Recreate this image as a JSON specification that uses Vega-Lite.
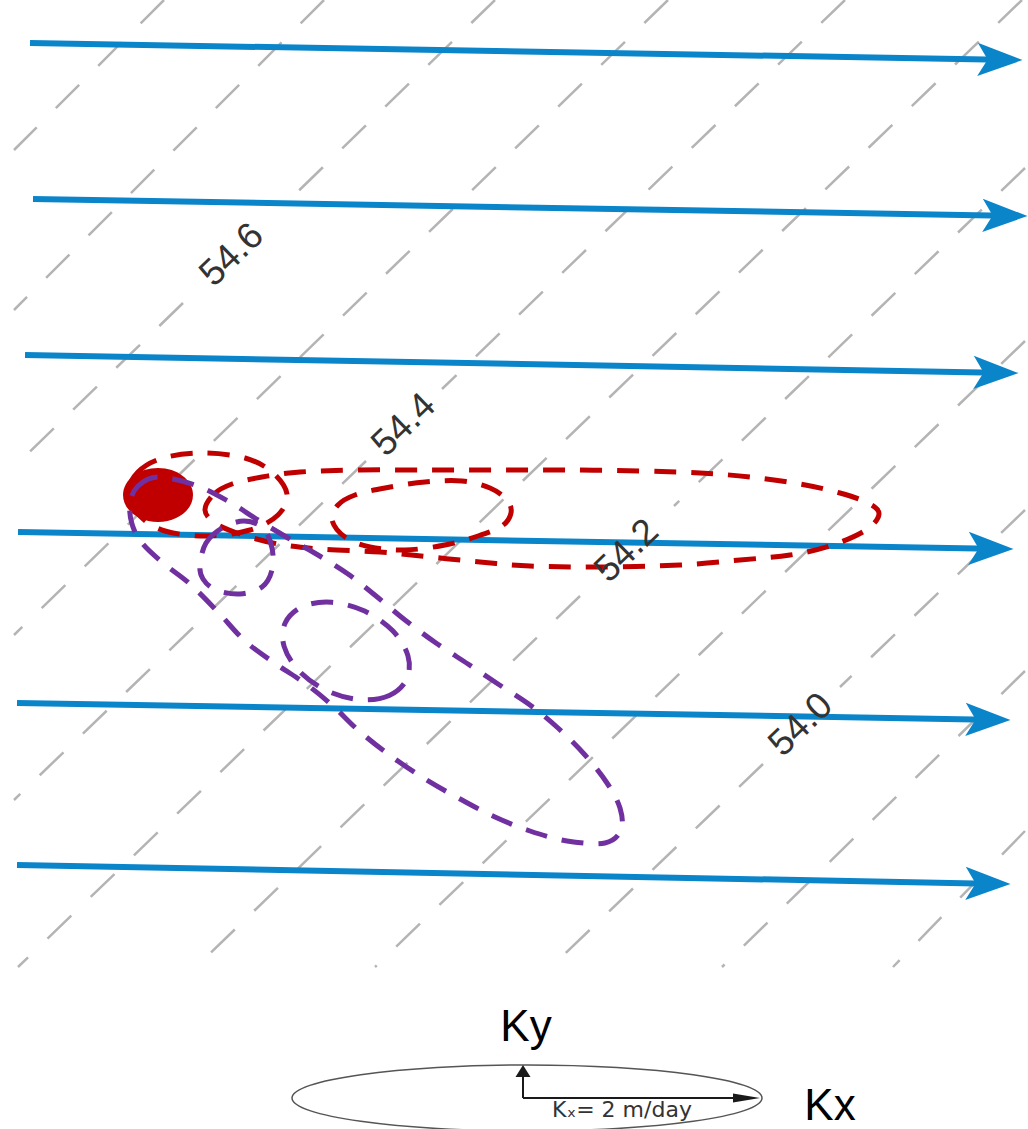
{
  "$schema": "https://vega.github.io/schema/vega-lite/v6.json",
  "width": 1028,
  "height": 1129,
  "autosize": {"type": "fit", "contains": "padding"},
  "padding": 0,
  "background": "white",
  "config": {"view": {"stroke": null}},
  "datasets": {
    "contours": [
      {"seg": "L1", "ord": 0, "x": 164, "y": 0}, {"seg": "L1", "ord": 1, "x": 14, "y": 150},
      {"seg": "L2", "ord": 0, "x": 324, "y": 0}, {"seg": "L2", "ord": 1, "x": 14, "y": 310},
      {"seg": "L3a", "ord": 0, "x": 495, "y": 0}, {"seg": "L3a", "ord": 1, "x": 282, "y": 207},
      {"seg": "L3b", "ord": 0, "x": 183, "y": 303}, {"seg": "L3b", "ord": 1, "x": 14, "y": 467},
      {"seg": "L4", "ord": 0, "x": 668, "y": 0}, {"seg": "L4", "ord": 1, "x": 14, "y": 635},
      {"seg": "L5a", "ord": 0, "x": 845, "y": 0}, {"seg": "L5a", "ord": 1, "x": 442, "y": 389},
      {"seg": "L5b", "ord": 0, "x": 366, "y": 461}, {"seg": "L5b", "ord": 1, "x": 14, "y": 800},
      {"seg": "L6", "ord": 0, "x": 1022, "y": 0}, {"seg": "L6", "ord": 1, "x": 18, "y": 967},
      {"seg": "L7a", "ord": 0, "x": 1025, "y": 168}, {"seg": "L7a", "ord": 1, "x": 674, "y": 506},
      {"seg": "L7b", "ord": 0, "x": 580, "y": 596}, {"seg": "L7b", "ord": 1, "x": 196, "y": 967},
      {"seg": "L8", "ord": 0, "x": 1025, "y": 341}, {"seg": "L8", "ord": 1, "x": 375, "y": 967},
      {"seg": "L9a", "ord": 0, "x": 1025, "y": 510}, {"seg": "L9a", "ord": 1, "x": 840, "y": 687},
      {"seg": "L9b", "ord": 0, "x": 763, "y": 764}, {"seg": "L9b", "ord": 1, "x": 551, "y": 967},
      {"seg": "L10", "ord": 0, "x": 1025, "y": 671}, {"seg": "L10", "ord": 1, "x": 722, "y": 967},
      {"seg": "L11", "ord": 0, "x": 1025, "y": 831}, {"seg": "L11", "ord": 1, "x": 893, "y": 967}
    ],
    "flow": [
      {"line": 1, "ord": 0, "x": 30, "y": 43}, {"line": 1, "ord": 1, "x": 1000, "y": 59.7},
      {"line": 2, "ord": 0, "x": 33, "y": 199}, {"line": 2, "ord": 1, "x": 1005, "y": 215.7},
      {"line": 3, "ord": 0, "x": 25, "y": 355}, {"line": 3, "ord": 1, "x": 996, "y": 372.7},
      {"line": 4, "ord": 0, "x": 18, "y": 532}, {"line": 4, "ord": 1, "x": 991, "y": 548.7},
      {"line": 5, "ord": 0, "x": 17, "y": 703}, {"line": 5, "ord": 1, "x": 988, "y": 719.7},
      {"line": 6, "ord": 0, "x": 17, "y": 865}, {"line": 6, "ord": 1, "x": 988, "y": 883.7}
    ],
    "heads": [
      {"line": 1, "x": 1000, "y": 59.7},
      {"line": 2, "x": 1005, "y": 215.7},
      {"line": 3, "x": 996, "y": 372.7},
      {"line": 4, "x": 991, "y": 548.7},
      {"line": 5, "x": 988, "y": 719.7},
      {"line": 6, "x": 988, "y": 883.7}
    ],
    "red": [
      {"id": "R3", "ord": 1, "x": 205, "y": 510}, {"id": "R3", "ord": 2, "x": 214, "y": 494},
      {"id": "R3", "ord": 3, "x": 232, "y": 484}, {"id": "R3", "ord": 4, "x": 262, "y": 477},
      {"id": "R3", "ord": 5, "x": 300, "y": 472}, {"id": "R3", "ord": 6, "x": 360, "y": 470},
      {"id": "R3", "ord": 7, "x": 430, "y": 470}, {"id": "R3", "ord": 8, "x": 500, "y": 470},
      {"id": "R3", "ord": 9, "x": 570, "y": 470}, {"id": "R3", "ord": 10, "x": 640, "y": 471},
      {"id": "R3", "ord": 11, "x": 700, "y": 473}, {"id": "R3", "ord": 12, "x": 750, "y": 477},
      {"id": "R3", "ord": 13, "x": 800, "y": 484}, {"id": "R3", "ord": 14, "x": 840, "y": 493},
      {"id": "R3", "ord": 15, "x": 868, "y": 503}, {"id": "R3", "ord": 16, "x": 879, "y": 514},
      {"id": "R3", "ord": 17, "x": 866, "y": 530}, {"id": "R3", "ord": 18, "x": 830, "y": 546},
      {"id": "R3", "ord": 19, "x": 790, "y": 555}, {"id": "R3", "ord": 20, "x": 740, "y": 560},
      {"id": "R3", "ord": 21, "x": 680, "y": 565}, {"id": "R3", "ord": 22, "x": 600, "y": 567},
      {"id": "R3", "ord": 23, "x": 530, "y": 566}, {"id": "R3", "ord": 24, "x": 480, "y": 562},
      {"id": "R3", "ord": 25, "x": 430, "y": 557}, {"id": "R3", "ord": 26, "x": 380, "y": 552},
      {"id": "R3", "ord": 27, "x": 320, "y": 549}, {"id": "R3", "ord": 28, "x": 278, "y": 544},
      {"id": "R3", "ord": 29, "x": 240, "y": 534}, {"id": "R3", "ord": 30, "x": 215, "y": 523},
      {"id": "R2", "ord": 1, "x": 332, "y": 520}, {"id": "R2", "ord": 2, "x": 338, "y": 505},
      {"id": "R2", "ord": 3, "x": 355, "y": 495}, {"id": "R2", "ord": 4, "x": 385, "y": 488},
      {"id": "R2", "ord": 5, "x": 425, "y": 482}, {"id": "R2", "ord": 6, "x": 462, "y": 481},
      {"id": "R2", "ord": 7, "x": 490, "y": 488}, {"id": "R2", "ord": 8, "x": 507, "y": 500},
      {"id": "R2", "ord": 9, "x": 511, "y": 513}, {"id": "R2", "ord": 10, "x": 502, "y": 526},
      {"id": "R2", "ord": 11, "x": 478, "y": 536}, {"id": "R2", "ord": 12, "x": 445, "y": 545},
      {"id": "R2", "ord": 13, "x": 405, "y": 550}, {"id": "R2", "ord": 14, "x": 370, "y": 547},
      {"id": "R2", "ord": 15, "x": 345, "y": 537},
      {"id": "R1", "ord": 1, "x": 128, "y": 494}, {"id": "R1", "ord": 2, "x": 138, "y": 472},
      {"id": "R1", "ord": 3, "x": 163, "y": 458}, {"id": "R1", "ord": 4, "x": 203, "y": 453},
      {"id": "R1", "ord": 5, "x": 245, "y": 458}, {"id": "R1", "ord": 6, "x": 272, "y": 472},
      {"id": "R1", "ord": 7, "x": 287, "y": 494}, {"id": "R1", "ord": 8, "x": 278, "y": 515},
      {"id": "R1", "ord": 9, "x": 250, "y": 530}, {"id": "R1", "ord": 10, "x": 207, "y": 536},
      {"id": "R1", "ord": 11, "x": 165, "y": 531}, {"id": "R1", "ord": 12, "x": 140, "y": 516}
    ],
    "purple": [
      {"id": "P1", "ord": 1, "x": 200, "y": 565}, {"id": "P1", "ord": 2, "x": 206, "y": 543},
      {"id": "P1", "ord": 3, "x": 222, "y": 528}, {"id": "P1", "ord": 4, "x": 244, "y": 521},
      {"id": "P1", "ord": 5, "x": 263, "y": 528}, {"id": "P1", "ord": 6, "x": 272, "y": 548},
      {"id": "P1", "ord": 7, "x": 272, "y": 570}, {"id": "P1", "ord": 8, "x": 262, "y": 587},
      {"id": "P1", "ord": 9, "x": 240, "y": 594}, {"id": "P1", "ord": 10, "x": 216, "y": 590},
      {"id": "P1", "ord": 11, "x": 203, "y": 579},
      {"id": "P2", "ord": 1, "x": 406.7, "y": 679.3}, {"id": "P2", "ord": 2, "x": 389.3, "y": 695.5},
      {"id": "P2", "ord": 3, "x": 360.3, "y": 699.7}, {"id": "P2", "ord": 4, "x": 327.4, "y": 690.9},
      {"id": "P2", "ord": 5, "x": 299.5, "y": 671.4}, {"id": "P2", "ord": 6, "x": 284.1, "y": 646.4},
      {"id": "P2", "ord": 7, "x": 285.3, "y": 622.7}, {"id": "P2", "ord": 8, "x": 302.7, "y": 606.5},
      {"id": "P2", "ord": 9, "x": 331.7, "y": 602.3}, {"id": "P2", "ord": 10, "x": 364.6, "y": 611.1},
      {"id": "P2", "ord": 11, "x": 392.5, "y": 630.6}, {"id": "P2", "ord": 12, "x": 407.9, "y": 655.6},
      {"id": "P3", "ord": 1, "x": 130, "y": 503}, {"id": "P3", "ord": 2, "x": 138, "y": 486},
      {"id": "P3", "ord": 3, "x": 158, "y": 477}, {"id": "P3", "ord": 4, "x": 195, "y": 485},
      {"id": "P3", "ord": 5, "x": 228, "y": 501}, {"id": "P3", "ord": 6, "x": 258, "y": 520},
      {"id": "P3", "ord": 7, "x": 288, "y": 538}, {"id": "P3", "ord": 8, "x": 318, "y": 555},
      {"id": "P3", "ord": 9, "x": 348, "y": 574}, {"id": "P3", "ord": 10, "x": 376, "y": 596},
      {"id": "P3", "ord": 11, "x": 405, "y": 620}, {"id": "P3", "ord": 12, "x": 436, "y": 643},
      {"id": "P3", "ord": 13, "x": 468, "y": 664}, {"id": "P3", "ord": 14, "x": 498, "y": 684},
      {"id": "P3", "ord": 15, "x": 530, "y": 705}, {"id": "P3", "ord": 16, "x": 558, "y": 728},
      {"id": "P3", "ord": 17, "x": 585, "y": 755}, {"id": "P3", "ord": 18, "x": 607, "y": 783},
      {"id": "P3", "ord": 19, "x": 620, "y": 808}, {"id": "P3", "ord": 20, "x": 621, "y": 830},
      {"id": "P3", "ord": 21, "x": 605, "y": 843}, {"id": "P3", "ord": 22, "x": 567, "y": 841},
      {"id": "P3", "ord": 23, "x": 530, "y": 831}, {"id": "P3", "ord": 24, "x": 495, "y": 817},
      {"id": "P3", "ord": 25, "x": 462, "y": 800}, {"id": "P3", "ord": 26, "x": 425, "y": 779},
      {"id": "P3", "ord": 27, "x": 388, "y": 754}, {"id": "P3", "ord": 28, "x": 358, "y": 730},
      {"id": "P3", "ord": 29, "x": 333, "y": 706}, {"id": "P3", "ord": 30, "x": 306, "y": 684},
      {"id": "P3", "ord": 31, "x": 276, "y": 664}, {"id": "P3", "ord": 32, "x": 245, "y": 641},
      {"id": "P3", "ord": 33, "x": 218, "y": 612}, {"id": "P3", "ord": 34, "x": 190, "y": 584},
      {"id": "P3", "ord": 35, "x": 163, "y": 563}, {"id": "P3", "ord": 36, "x": 142, "y": 543},
      {"id": "P3", "ord": 37, "x": 132, "y": 524}
    ],
    "blob": [{"x": 158, "y": 495}],
    "legendEllipse": [
      {"ord": 1, "x": 762, "y": 1098}, {"ord": 2, "x": 744.1, "y": 1110.6},
      {"ord": 3, "x": 693.2, "y": 1121.3}, {"ord": 4, "x": 616.9, "y": 1128.5},
      {"ord": 5, "x": 527, "y": 1131}, {"ord": 6, "x": 437.1, "y": 1128.5},
      {"ord": 7, "x": 360.8, "y": 1121.3}, {"ord": 8, "x": 309.9, "y": 1110.6},
      {"ord": 9, "x": 292, "y": 1098}, {"ord": 10, "x": 309.9, "y": 1085.4},
      {"ord": 11, "x": 360.8, "y": 1074.7}, {"ord": 12, "x": 437.1, "y": 1067.5},
      {"ord": 13, "x": 527, "y": 1065}, {"ord": 14, "x": 616.9, "y": 1067.5},
      {"ord": 15, "x": 693.2, "y": 1074.7}, {"ord": 16, "x": 744.1, "y": 1085.4}
    ],
    "legendArrows": [
      {"arrow": "Ky", "ord": 0, "x": 523, "y": 1098}, {"arrow": "Ky", "ord": 1, "x": 523, "y": 1072},
      {"arrow": "Kx", "ord": 0, "x": 523, "y": 1098}, {"arrow": "Kx", "ord": 1, "x": 747, "y": 1098}
    ],
    "headUp": [{"x": 523, "y": 1071}],
    "headRight": [{"x": 746.5, "y": 1098}],
    "labels": [
      {"label": "54.6", "x": 232, "y": 255},
      {"label": "54.4", "x": 404, "y": 425},
      {"label": "54.2", "x": 627, "y": 551},
      {"label": "54.0", "x": 801, "y": 725}
    ],
    "legendText": [
      {"label": "Ky", "x": 526, "y": 1041},
      {"label": "Kx", "x": 830, "y": 1120}
    ],
    "note": [{"label": "Kₓ= 2 m/day", "x": 552, "y": 1117}]
  },
  "encoding": {
    "x": {"field": "x", "type": "quantitative", "axis": null, "scale": {"domain": [0, 1028], "nice": false, "zero": false}},
    "y": {"field": "y", "type": "quantitative", "axis": null, "scale": {"domain": [0, 1129], "nice": false, "zero": false, "reverse": true}}
  },
  "layer": [
    {
      "data": {"name": "contours"},
      "mark": {"type": "line", "stroke": "#b4b4b4", "strokeWidth": 2.5, "strokeDash": [33, 27], "clip": true},
      "encoding": {"detail": {"field": "seg"}, "order": {"field": "ord"}}
    },
    {
      "data": {"name": "flow"},
      "mark": {"type": "line", "stroke": "#0b85c9", "strokeWidth": 6, "strokeCap": "butt", "clip": true},
      "encoding": {"detail": {"field": "line"}, "order": {"field": "ord"}}
    },
    {
      "data": {"name": "heads"},
      "mark": {"type": "point", "shape": "M 1 0 L -1 -0.74 L -0.55 0 L -1 0.74 Z", "size": 2025, "angle": 1, "filled": true, "fill": "#0b85c9", "opacity": 1, "strokeWidth": 0, "clip": true}
    },
    {
      "data": {"name": "red"},
      "mark": {"type": "line", "interpolate": "cardinal-closed", "stroke": "#c00000", "strokeWidth": 5, "strokeDash": [22, 15], "clip": true},
      "encoding": {"detail": {"field": "id"}, "order": {"field": "ord"}}
    },
    {
      "data": {"name": "blob"},
      "mark": {"type": "point", "shape": "M -1 0 A 1 0.77 0 1 0 1 0 A 1 0.77 0 1 0 -1 0 Z", "size": 4900, "filled": true, "fill": "#c00000", "opacity": 1, "strokeWidth": 0, "clip": true}
    },
    {
      "data": {"name": "purple"},
      "mark": {"type": "line", "interpolate": "cardinal-closed", "stroke": "#7030a0", "strokeWidth": 5, "strokeDash": [22, 15], "clip": true},
      "encoding": {"detail": {"field": "id"}, "order": {"field": "ord"}}
    },
    {
      "data": {"name": "legendEllipse"},
      "mark": {"type": "line", "interpolate": "cardinal-closed", "stroke": "#555555", "strokeWidth": 1.5, "clip": true},
      "encoding": {"order": {"field": "ord"}}
    },
    {
      "data": {"name": "legendArrows"},
      "mark": {"type": "line", "stroke": "#1a1a1a", "strokeWidth": 2, "clip": true},
      "encoding": {"detail": {"field": "arrow"}, "order": {"field": "ord"}}
    },
    {
      "data": {"name": "headUp"},
      "mark": {"type": "point", "shape": "M 1 0 L -1 -1.25 L -1 1.25 Z", "size": 144, "angle": -90, "filled": true, "fill": "#1a1a1a", "opacity": 1, "strokeWidth": 0, "clip": true}
    },
    {
      "data": {"name": "headRight"},
      "mark": {"type": "point", "shape": "M 1 0 L -1 -0.33 L -1 0.33 Z", "size": 729, "filled": true, "fill": "#1a1a1a", "opacity": 1, "strokeWidth": 0, "clip": true}
    },
    {
      "data": {"name": "labels"},
      "mark": {"type": "text", "font": "Liberation Sans", "fontSize": 37, "angle": -44, "align": "center", "baseline": "middle", "fill": "#333333"},
      "encoding": {"text": {"field": "label"}}
    },
    {
      "data": {"name": "legendText"},
      "mark": {"type": "text", "font": "Liberation Sans", "fontSize": 44, "align": "center", "baseline": "alphabetic", "fill": "#000000"},
      "encoding": {"text": {"field": "label"}}
    },
    {
      "data": {"name": "note"},
      "mark": {"type": "text", "font": "DejaVu Sans", "fontSize": 22, "align": "left", "baseline": "alphabetic", "fill": "#333333"},
      "encoding": {"text": {"field": "label"}}
    }
  ]
}
